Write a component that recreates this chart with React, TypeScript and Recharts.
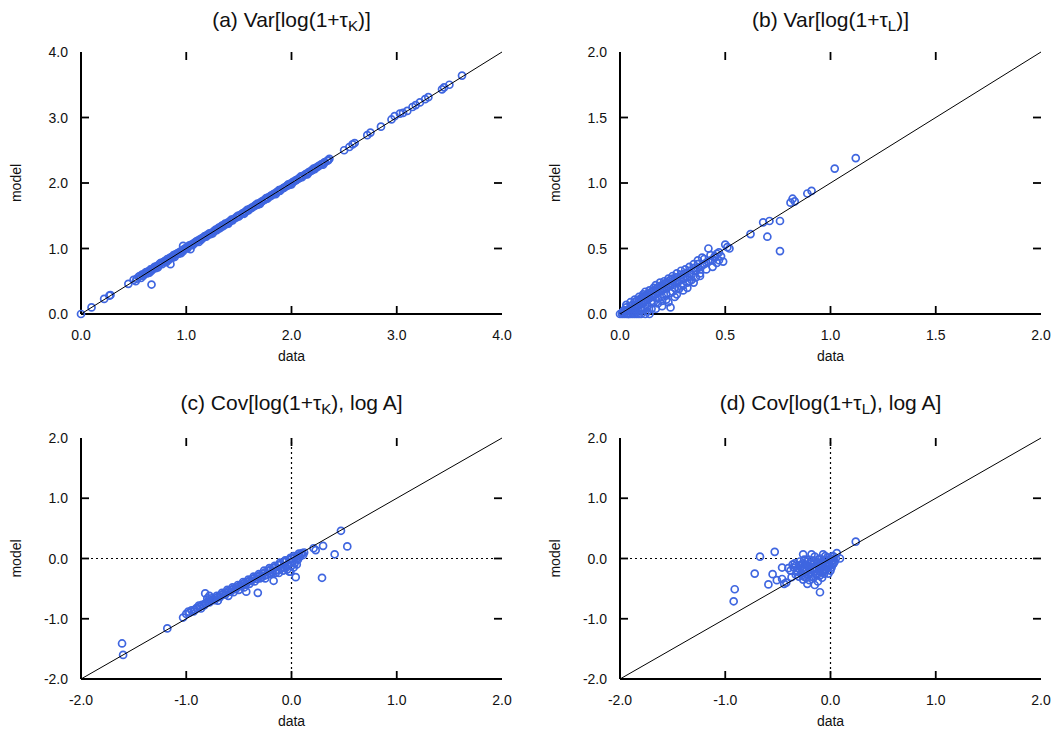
import React from 'react';
import { ScatterChart, Scatter, XAxis, YAxis, ReferenceLine } from 'recharts';

type Pt = [number, number];

// ---------- data ----------
const ticksA = [0, 1, 2, 3, 4];
const ticksB = [0, 0.5, 1, 1.5, 2];
const ticksCD = [-2, -1, 0, 1, 2];

const xLabel = 'data';
const yLabel = 'model';

const titleA = { pre: '(a) Var[log(1+\u03c4', sub: 'K', post: ')]' };
const titleB = { pre: '(b) Var[log(1+\u03c4', sub: 'L', post: ')]' };
const titleC = { pre: '(c) Cov[log(1+\u03c4', sub: 'K', post: '), log A]' };
const titleD = { pre: '(d) Cov[log(1+\u03c4', sub: 'L', post: '), log A]' };

const panelAPoints: Pt[] = [
  [0, 0], [0.1, 0.1], [0.22, 0.23], [0.27, 0.28], [0.28, 0.29], [0.45, 0.46], [0.67, 0.45], [0.85, 0.76], [0.97, 1.04], [1.04, 0.99],
  [0.5, 0.52], [0.53, 0.54], [0.55, 0.57], [0.58, 0.6], [0.6, 0.61], [0.62, 0.64], [0.64, 0.65], [0.66, 0.68], [0.68, 0.69], [0.7, 0.72],
  [0.72, 0.73], [0.74, 0.75], [0.76, 0.78], [0.78, 0.79], [0.8, 0.81], [0.82, 0.84], [0.84, 0.85], [0.86, 0.87], [0.88, 0.9], [0.9, 0.91],
  [0.92, 0.93], [0.94, 0.95], [0.96, 0.97], [0.98, 0.99], [1.0, 1.01], [1.02, 1.03], [1.05, 1.06], [1.08, 1.08], [1.1, 1.11], [1.13, 1.14],
  [1.16, 1.16], [1.18, 1.19], [1.21, 1.21], [1.24, 1.24], [1.27, 1.27], [1.3, 1.3], [1.33, 1.33], [1.36, 1.36], [1.39, 1.39], [1.42, 1.42],
  [1.45, 1.45], [1.48, 1.48], [1.51, 1.51], [1.54, 1.54], [1.57, 1.57], [1.6, 1.6], [1.63, 1.63], [1.66, 1.66], [1.69, 1.69], [1.72, 1.72],
  [1.75, 1.75], [1.78, 1.78], [1.81, 1.81], [1.84, 1.84], [1.87, 1.87], [1.9, 1.9], [1.93, 1.93], [1.96, 1.96], [1.99, 1.99], [2.02, 2.02],
  [2.05, 2.05], [2.08, 2.08], [2.11, 2.11], [2.14, 2.14], [2.17, 2.17], [2.2, 2.2], [2.23, 2.23], [2.26, 2.26], [2.29, 2.29], [2.32, 2.32], [2.35, 2.35],
  [0.57, 0.55], [0.65, 0.63], [0.73, 0.71], [0.81, 0.79], [0.89, 0.87], [0.95, 0.93], [1.12, 1.1], [1.25, 1.23], [1.4, 1.38], [1.55, 1.53],
  [1.7, 1.68], [1.85, 1.83], [2.0, 1.98], [2.15, 2.13], [2.3, 2.28],
  [0.52, 0.5], [0.56, 0.58], [0.59, 0.58], [0.61, 0.63], [0.63, 0.62], [0.67, 0.66], [0.69, 0.7], [0.71, 0.7], [0.75, 0.77], [0.77, 0.76],
  [0.79, 0.8], [0.83, 0.82], [0.85, 0.86], [0.87, 0.86], [0.91, 0.92], [0.93, 0.92], [0.97, 0.96], [0.99, 1.0], [1.01, 1.0], [1.03, 1.05],
  [1.06, 1.05], [1.07, 1.08], [1.09, 1.1], [1.11, 1.12], [1.14, 1.13], [1.15, 1.16], [1.17, 1.18], [1.19, 1.18], [1.2, 1.21], [1.22, 1.23],
  [1.23, 1.22], [1.26, 1.26], [1.28, 1.29], [1.29, 1.28], [1.31, 1.32], [1.32, 1.31], [1.34, 1.35], [1.35, 1.34], [1.37, 1.38], [1.38, 1.37],
  [1.41, 1.41], [1.43, 1.44], [1.44, 1.43], [1.47, 1.47], [1.49, 1.5], [1.5, 1.49], [1.53, 1.53], [1.56, 1.56], [1.58, 1.59], [1.59, 1.58],
  [1.62, 1.62], [1.65, 1.65], [1.67, 1.68], [1.68, 1.67], [1.71, 1.71], [1.74, 1.74], [1.76, 1.77], [1.77, 1.76], [1.8, 1.8], [1.83, 1.83],
  [1.86, 1.86], [1.88, 1.89], [1.89, 1.88], [1.92, 1.92], [1.95, 1.95], [1.97, 1.98], [1.98, 1.97], [2.01, 2.01], [2.04, 2.04], [2.07, 2.07],
  [2.09, 2.1], [2.1, 2.09], [2.13, 2.13], [2.16, 2.16], [2.19, 2.19], [2.21, 2.22], [2.22, 2.21], [2.25, 2.25], [2.28, 2.28], [2.31, 2.31],
  [2.34, 2.34], [2.36, 2.37],
  [2.5, 2.5], [2.55, 2.55], [2.58, 2.59], [2.6, 2.61], [2.72, 2.73], [2.75, 2.77], [2.85, 2.86], [2.95, 2.97], [2.98, 3.02], [3.03, 3.06],
  [3.06, 3.07], [3.1, 3.1], [3.15, 3.16], [3.18, 3.19], [3.22, 3.23], [3.27, 3.28], [3.3, 3.31], [3.43, 3.43], [3.45, 3.46], [3.5, 3.5], [3.62, 3.64],
];

const panelBPoints: Pt[] = [
  [0, 0], [0.01, 0], [0.02, 0], [0.03, 0], [0.04, 0], [0.05, 0], [0.06, 0], [0.07, 0], [0.08, 0], [0.09, 0], [0.1, 0], [0.12, 0], [0.14, 0],
  [0.01, 0.01], [0.02, 0.03], [0.03, 0.02], [0.03, 0.05], [0.04, 0.03], [0.05, 0.06], [0.05, 0.02], [0.06, 0.04], [0.06, 0.07], [0.07, 0.05],
  [0.07, 0.09], [0.08, 0.06], [0.08, 0.1], [0.09, 0.07], [0.09, 0.11], [0.1, 0.08], [0.1, 0.12], [0.11, 0.09], [0.11, 0.13], [0.12, 0.1],
  [0.12, 0.14], [0.13, 0.11], [0.13, 0.15], [0.14, 0.12], [0.14, 0.16], [0.15, 0.13], [0.15, 0.17], [0.16, 0.14], [0.16, 0.18], [0.17, 0.15],
  [0.17, 0.19], [0.18, 0.16], [0.18, 0.2], [0.19, 0.17], [0.19, 0.21], [0.2, 0.18], [0.2, 0.22], [0.21, 0.19], [0.21, 0.23], [0.22, 0.2],
  [0.22, 0.24], [0.23, 0.21], [0.23, 0.25], [0.24, 0.22], [0.24, 0.26], [0.25, 0.23], [0.25, 0.27], [0.26, 0.24], [0.27, 0.28], [0.28, 0.25],
  [0.29, 0.3], [0.3, 0.27], [0.31, 0.31], [0.32, 0.28], [0.33, 0.33], [0.34, 0.3], [0.35, 0.35], [0.36, 0.33], [0.37, 0.38], [0.38, 0.34],
  [0.39, 0.43], [0.4, 0.38], [0.42, 0.5], [0.42, 0.4], [0.44, 0.41], [0.46, 0.46], [0.47, 0.41], [0.5, 0.53], [0.51, 0.51],
  [0.2, 0.13], [0.25, 0.17], [0.15, 0.08], [0.12, 0.04], [0.1, 0.03], [0.3, 0.22], [0.33, 0.25], [0.27, 0.15], [0.22, 0.11], [0.18, 0.08],
  [0.15, 0.04], [0.13, 0.02], [0.24, 0.05],
  [0.03, 0.07], [0.04, 0.0], [0.05, 0.09], [0.06, 0.01], [0.07, 0.11], [0.08, 0.02], [0.09, 0.13], [0.1, 0.05], [0.11, 0.15], [0.11, 0.04],
  [0.12, 0.17], [0.13, 0.06], [0.14, 0.18], [0.15, 0.1], [0.16, 0.2], [0.16, 0.09], [0.17, 0.22], [0.18, 0.12], [0.19, 0.24], [0.2, 0.1],
  [0.21, 0.25], [0.22, 0.15], [0.23, 0.27], [0.24, 0.16], [0.25, 0.29], [0.26, 0.2], [0.27, 0.31], [0.28, 0.19], [0.29, 0.33], [0.3, 0.18],
  [0.31, 0.34], [0.32, 0.24], [0.33, 0.36], [0.34, 0.26], [0.35, 0.38], [0.36, 0.28], [0.37, 0.41], [0.38, 0.31], [0.4, 0.42], [0.41, 0.34],
  [0.43, 0.45], [0.44, 0.36], [0.45, 0.43], [0.47, 0.47], [0.48, 0.44], [0.49, 0.4], [0.52, 0.5], [0.26, 0.13], [0.29, 0.21], [0.35, 0.24],
  [0.38, 0.29], [0.46, 0.39], [0.32, 0.2], [0.2, 0.06], [0.17, 0.04], [0.23, 0.09],
  [0.05, 0.04], [0.07, 0.07], [0.09, 0.09], [0.11, 0.11], [0.13, 0.13], [0.15, 0.15], [0.17, 0.17], [0.19, 0.19], [0.21, 0.21],
  [0.23, 0.23], [0.25, 0.25], [0.27, 0.26], [0.29, 0.28], [0.31, 0.29], [0.33, 0.31], [0.35, 0.33], [0.37, 0.35], [0.39, 0.37],
  [0.41, 0.39], [0.43, 0.41], [0.45, 0.44],
  [0.62, 0.61], [0.68, 0.7], [0.71, 0.71], [0.76, 0.71], [0.7, 0.59], [0.76, 0.48], [0.81, 0.85], [0.82, 0.88], [0.83, 0.86], [0.89, 0.92],
  [0.91, 0.94], [1.02, 1.11], [1.12, 1.19],
];

const panelCPoints: Pt[] = [
  [-1.0, -0.92], [-0.97, -0.9], [-0.95, -0.86], [-0.92, -0.85], [-0.9, -0.82], [-0.87, -0.8], [-0.85, -0.77], [-0.82, -0.75], [-0.8, -0.72],
  [-0.77, -0.7], [-0.75, -0.68], [-0.72, -0.66], [-0.7, -0.64], [-0.67, -0.61], [-0.65, -0.59], [-0.62, -0.57], [-0.6, -0.54], [-0.57, -0.52],
  [-0.55, -0.5], [-0.52, -0.48], [-0.5, -0.46], [-0.47, -0.43], [-0.45, -0.41], [-0.42, -0.39], [-0.4, -0.37], [-0.37, -0.34], [-0.35, -0.32],
  [-0.32, -0.3], [-0.3, -0.28], [-0.27, -0.25], [-0.25, -0.23], [-0.22, -0.21], [-0.2, -0.18], [-0.17, -0.16], [-0.15, -0.14], [-0.12, -0.11],
  [-0.1, -0.09], [-0.07, -0.06], [-0.05, -0.04], [-0.02, -0.02], [0.0, 0.0], [0.03, 0.02], [0.06, 0.05], [0.09, 0.07], [0.12, 0.1],
  [-0.6, -0.62], [-0.5, -0.52], [-0.45, -0.48], [-0.4, -0.42], [-0.35, -0.38], [-0.3, -0.33], [-0.25, -0.28], [-0.2, -0.25], [-0.15, -0.2],
  [-0.1, -0.17], [-0.05, -0.15], [0.0, -0.12], [0.03, -0.08], [0.06, -0.02], [-0.12, -0.24], [-0.02, -0.22],
  [-0.98, -0.88], [-0.93, -0.88], [-0.88, -0.78], [-0.86, -0.83], [-0.83, -0.78], [-0.81, -0.74], [-0.78, -0.73], [-0.76, -0.66],
  [-0.73, -0.69], [-0.71, -0.62], [-0.68, -0.64], [-0.66, -0.57], [-0.63, -0.6], [-0.61, -0.52], [-0.58, -0.55], [-0.56, -0.48],
  [-0.53, -0.51], [-0.51, -0.44], [-0.48, -0.46], [-0.46, -0.39], [-0.43, -0.42], [-0.41, -0.35], [-0.38, -0.37], [-0.36, -0.3],
  [-0.33, -0.34], [-0.31, -0.26], [-0.28, -0.31], [-0.26, -0.2], [-0.23, -0.27], [-0.21, -0.16], [-0.18, -0.23], [-0.16, -0.12],
  [-0.13, -0.19], [-0.11, -0.07], [-0.08, -0.14], [-0.06, -0.03], [-0.03, -0.1], [-0.01, 0.01], [0.01, -0.05], [0.02, 0.04], [0.05, 0.0],
  [0.07, 0.08], [0.08, 0.03], [0.1, 0.09], [0.11, 0.06], [-0.04, -0.18], [-0.08, -0.2], [0.02, -0.15], [0.05, -0.1], [-0.15, -0.24],
  [-0.25, -0.33], [-0.55, -0.56], [-0.7, -0.7],
  [0.47, 0.46], [0.53, 0.2], [0.41, 0.07], [0.3, 0.21], [0.23, 0.14], [0.21, 0.17], [0.29, -0.32], [0.04, -0.31], [-0.01, -0.22],
  [-0.17, -0.37], [-0.32, -0.57], [-0.43, -0.55], [-0.82, -0.58], [-0.9, -0.83], [-1.03, -0.98], [-1.18, -1.16], [-1.61, -1.41],
  [-1.6, -1.6], [-0.78, -0.62], [-0.8, -0.66],
];

const panelDPoints: Pt[] = [
  [0.24, 0.28], [-0.67, 0.03], [-0.53, 0.11], [-0.72, -0.25], [-0.55, -0.26], [-0.59, -0.43], [-0.91, -0.51], [-0.92, -0.71],
  [-0.46, -0.34], [-0.51, -0.36], [-0.44, -0.42], [-0.42, -0.4], [-0.46, -0.15], [-0.26, 0.07], [-0.18, 0.07], [-0.07, 0.07],
  [0.06, 0.09], [0.09, 0.0], [-0.15, -0.44], [-0.1, -0.56], [-0.37, -0.31],
  [-0.35, -0.15], [-0.32, -0.2], [-0.3, -0.12], [-0.28, -0.25], [-0.27, -0.17], [-0.25, -0.3], [-0.24, -0.1], [-0.23, -0.2], [-0.22, -0.05],
  [-0.21, -0.28], [-0.2, -0.15], [-0.19, -0.22], [-0.18, -0.03], [-0.17, -0.1], [-0.16, -0.32], [-0.15, -0.18], [-0.14, -0.25],
  [-0.13, -0.06], [-0.12, -0.12], [-0.11, -0.2], [-0.1, 0.0], [-0.1, -0.28], [-0.09, -0.08], [-0.08, -0.15], [-0.07, -0.22],
  [-0.06, -0.03], [-0.05, -0.1], [-0.04, -0.18], [-0.03, 0.02], [-0.02, -0.06], [-0.01, -0.13], [0.0, -0.2], [0.0, 0.0], [0.02, -0.03],
  [0.03, -0.08], [0.05, 0.0], [-0.3, -0.3], [-0.26, -0.35], [-0.33, -0.27], [-0.2, -0.36], [-0.08, -0.32], [-0.12, -0.38], [-0.22, -0.42],
  [-0.38, -0.2], [-0.4, -0.16], [-0.25, -0.02], [-0.15, 0.03], [-0.05, 0.04], [0.02, 0.04], [-0.29, -0.05], [-0.34, -0.08],
  [-0.33, -0.12], [-0.31, -0.22], [-0.29, -0.18], [-0.27, -0.28], [-0.26, -0.08], [-0.25, -0.15], [-0.23, -0.32], [-0.22, -0.12],
  [-0.21, -0.02], [-0.2, -0.25], [-0.19, -0.08], [-0.18, -0.3], [-0.17, -0.18], [-0.16, -0.05], [-0.14, -0.15], [-0.13, -0.28],
  [-0.12, -0.02], [-0.11, -0.1], [-0.1, -0.22], [-0.09, -0.15], [-0.08, -0.05], [-0.07, -0.12], [-0.06, -0.25], [-0.05, -0.2],
  [-0.04, -0.02], [-0.03, -0.14], [-0.02, -0.25], [-0.01, -0.08], [0.01, -0.15], [0.02, -0.1], [0.04, -0.05], [0.03, 0.03],
  [-0.28, -0.1], [-0.24, -0.22], [-0.36, -0.1],
];

// ---------- style ----------
const FONT = '"Liberation Sans", Arial, Helvetica, sans-serif';
const BLUE = '#3f66e0';
const TXT = '#111';
const AXIS = { stroke: '#000', strokeWidth: 2 };
const fmt = (v: number) => v.toFixed(1);
const TL = 8; // inward tick length (px)
const TW = 1.8;

const YW = 80;
const XH = 50;
const MT = 10;
const MR = 10;

function BottomTick(props: any) {
  const { x, y, payload } = props;
  return (
    <text x={x} y={y} dy="0.71em" textAnchor="middle" fill={TXT} fontSize={14} fontFamily={FONT}>
      {fmt(payload.value)}
    </text>
  );
}
function LeftTick(props: any) {
  const { x, y, payload } = props;
  return (
    <text x={x} y={y} dy="0.36em" textAnchor="end" fill={TXT} fontSize={14} fontFamily={FONT}>
      {fmt(payload.value)}
    </text>
  );
}

function Circle(props: any) {
  const { cx, cy } = props;
  if (cx == null || cy == null) return <g />;
  return <circle cx={cx} cy={cy} r={3.5} fill="none" stroke={BLUE} strokeWidth={1.7} />;
}
const Nothing = () => <g />;

type Title = { pre: string; sub: string; post: string };

function Panel(props: {
  points: Pt[];
  ticks: number[];
  plotLeft: number;
  plotTop: number;
  plotW: number;
  plotH: number;
  title: Title;
  titleY: number;
  crosshair?: boolean;
}) {
  const { points, ticks, plotLeft, plotTop, plotW, plotH, title, titleY, crosshair } = props;
  const lo = ticks[0];
  const hi = ticks[ticks.length - 1];
  const data = points.map(([x, y]) => ({ x, y }));
  const diag = [{ x: lo, y: lo }, { x: hi, y: hi }];
  const inner = ticks.filter((t) => t > lo && t < hi);
  const W = YW + plotW + MR;
  const H = MT + plotH + XH;
  // pixel position of a tick value along the frame (same frame as the chart's plot area)
  const px = (t: number) => YW + ((t - lo) / (hi - lo)) * plotW;
  const py = (t: number) => MT + plotH - ((t - lo) / (hi - lo)) * plotH;
  return (
    <>
      <div
        style={{
          position: 'absolute',
          left: plotLeft + plotW / 2 - 200,
          top: titleY - 13,
          width: 400,
          lineHeight: '26px',
          height: 26,
          textAlign: 'center',
          fontFamily: FONT,
          fontSize: 21,
          color: TXT,
          whiteSpace: 'nowrap',
        }}
      >
        {title.pre}
        <sub style={{ fontSize: '0.72em', lineHeight: 0, verticalAlign: '-0.28em' }}>{title.sub}</sub>
        {title.post}
      </div>
      <div style={{ position: 'absolute', left: plotLeft - YW, top: plotTop - MT, width: W, height: H }}>
        <ScatterChart width={W} height={H} margin={{ top: MT, right: MR, bottom: 0, left: 0 }}>
          <XAxis
            xAxisId="b"
            dataKey="x"
            type="number"
            domain={[lo, hi]}
            ticks={ticks}
            interval={0}
            tickSize={0}
            tickMargin={16}
            height={XH}
            axisLine={AXIS}
            tickLine={false}
            tick={<BottomTick />}
            label={{ value: xLabel, position: 'insideBottom', offset: 3, fill: TXT, fontSize: 14, fontFamily: FONT }}
          />
          <YAxis
            yAxisId="l"
            dataKey="y"
            type="number"
            domain={[lo, hi]}
            ticks={ticks}
            interval={0}
            tickSize={0}
            tickMargin={13}
            width={YW}
            axisLine={AXIS}
            tickLine={false}
            tick={<LeftTick />}
            label={{
              value: yLabel,
              angle: -90,
              position: 'insideLeft',
              offset: 15,
              fill: TXT,
              fontSize: 14,
              fontFamily: FONT,
              style: { textAnchor: 'middle' },
            }}
          />
          <XAxis
            xAxisId="t"
            orientation="top"
            dataKey="x"
            type="number"
            domain={[lo, hi]}
            ticks={ticks}
            height={0}
            axisLine={AXIS}
            tickLine={false}
            tick={false}
          />
          <YAxis
            yAxisId="r"
            orientation="right"
            dataKey="y"
            type="number"
            domain={[lo, hi]}
            ticks={ticks}
            width={0}
            axisLine={AXIS}
            tickLine={false}
            tick={false}
          />
          {crosshair && (
            <ReferenceLine xAxisId="b" yAxisId="l" x={0} stroke="#000" strokeWidth={1.2} strokeDasharray="2 3" />
          )}
          {crosshair && (
            <ReferenceLine xAxisId="b" yAxisId="l" y={0} stroke="#000" strokeWidth={1.2} strokeDasharray="2 3" />
          )}
          <Scatter xAxisId="b" yAxisId="l" data={data} shape={<Circle />} isAnimationActive={false} />
          <Scatter
            xAxisId="t"
            yAxisId="r"
            data={diag}
            shape={<Nothing />}
            line={{ stroke: '#000', strokeWidth: 1 }}
            lineType="joint"
            isAnimationActive={false}
          />
        </ScatterChart>
        {/* inward frame tick marks (gnuplot style mirror ticks) */}
        <svg
          width={W}
          height={H}
          style={{ position: 'absolute', left: 0, top: 0, pointerEvents: 'none', overflow: 'visible' }}
        >
          {inner.map((t) => (
            <g key={'t' + t} stroke="#000" strokeWidth={TW}>
              <line x1={px(t)} x2={px(t)} y1={MT + plotH} y2={MT + plotH - TL} />
              <line x1={px(t)} x2={px(t)} y1={MT} y2={MT + TL} />
              <line x1={YW} x2={YW + TL} y1={py(t)} y2={py(t)} />
              <line x1={YW + plotW} x2={YW + plotW - TL} y1={py(t)} y2={py(t)} />
            </g>
          ))}
        </svg>
      </div>
    </>
  );
}

export default function App() {
  return (
    <div
      style={{
        position: 'absolute',
        left: 0,
        top: 0,
        width: 1059,
        height: 731,
        background: '#fff',
        overflow: 'hidden',
      }}
    >
      <Panel points={panelAPoints} ticks={ticksA} plotLeft={81} plotTop={52} plotW={421} plotH={262} title={titleA} titleY={20} />
      <Panel points={panelBPoints} ticks={ticksB} plotLeft={620} plotTop={52} plotW={421} plotH={262} title={titleB} titleY={20} />
      <Panel points={panelCPoints} ticks={ticksCD} plotLeft={81} plotTop={438} plotW={421} plotH={241} title={titleC} titleY={403} crosshair />
      <Panel points={panelDPoints} ticks={ticksCD} plotLeft={620} plotTop={438} plotW={421} plotH={241} title={titleD} titleY={403} crosshair />
    </div>
  );
}
